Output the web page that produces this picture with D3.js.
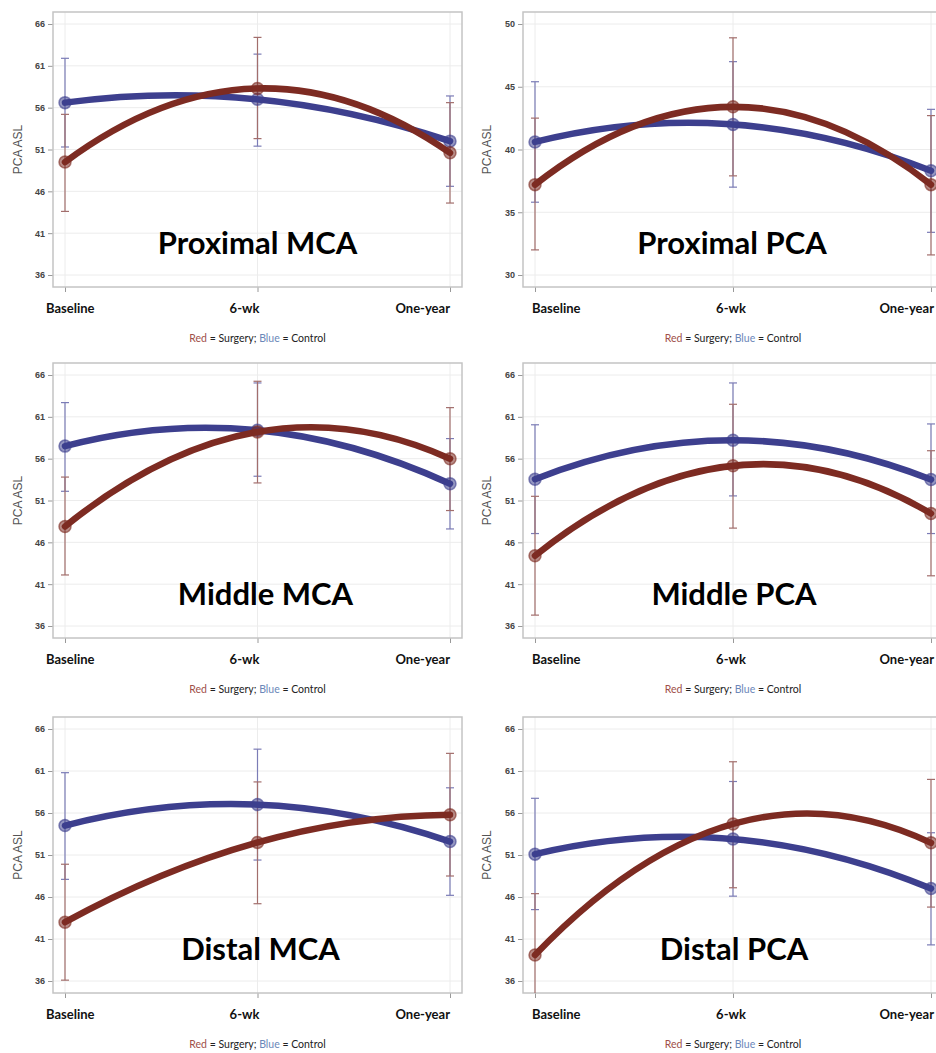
<!DOCTYPE html>
<html>
<head>
<meta charset="utf-8">
<script src="https://cdn.jsdelivr.net/npm/d3@7"></script>
<style>
  body { margin: 0; background: #fff; }
  svg { display: block; }
</style>
</head>
<body>
<div id="chart"></div>
<script>
// Data: means and error bar ends per region and time point
const timepoints = ["Baseline", "6-wk", "One-year"];
const regions = ["Proximal MCA", "Proximal PCA", "Middle MCA", "Middle PCA", "Distal MCA", "Distal PCA"];

const surgeryMean = [
  [49.5, 58.3, 50.6],
  [37.2, 43.4, 37.2],
  [47.9, 59.2, 56.0],
  [44.4, 55.15, 49.45],
  [43.0, 52.5, 55.8],
  [39.1, 54.7, 52.45]
];
const surgeryLow = [
  [43.6, 52.3, 44.6],
  [32.0, 37.9, 31.6],
  [42.1, 53.1, 49.8],
  [37.3, 47.7, 42.0],
  [36.1, 45.2, 48.5],
  [31.8, 47.1, 44.8]
];
const surgeryHigh = [
  [55.2, 64.4, 56.6],
  [42.5, 48.9, 42.7],
  [53.8, 65.25, 62.1],
  [51.5, 62.5, 56.95],
  [49.9, 59.7, 63.1],
  [46.4, 62.1, 60.0]
];
const controlMean = [
  [56.6, 57.0, 52.0],
  [40.6, 42.0, 38.3],
  [57.5, 59.4, 53.0],
  [53.55, 58.2, 53.5],
  [54.5, 57.0, 52.6],
  [51.1, 52.9, 47.0]
];
const controlLow = [
  [51.3, 51.4, 46.6],
  [35.8, 37.0, 33.4],
  [52.1, 53.9, 47.6],
  [47.05, 51.55, 47.05],
  [48.1, 50.4, 46.2],
  [44.5, 46.1, 40.3]
];
const controlHigh = [
  [61.9, 62.4, 57.4],
  [45.4, 47.0, 43.2],
  [62.7, 65.05, 58.4],
  [60.05, 65.05, 60.15],
  [60.8, 63.6, 59.0],
  [57.75, 59.75, 53.65]
];
const yTicks = [
  [36, 41, 46, 51, 56, 61, 66],
  [30, 35, 40, 45, 50],
  [36, 41, 46, 51, 56, 61, 66],
  [36, 41, 46, 51, 56, 61, 66],
  [36, 41, 46, 51, 56, 61, 66],
  [36, 41, 46, 51, 56, 61, 66]
];
const yLabel = "PCA ASL";

// Layout (pixels)
const width = 936, height = 1053;
const columns = [
  { left: 53, right: 462, labels: [{ anchor: "start", dx: -19 }, { anchor: "middle", dx: -13 }, { anchor: "end", dx: 0 }], yLabelX: 18 },
  { left: 523, right: 943, labels: [{ anchor: "start", dx: -3 }, { anchor: "middle", dx: -2 }, { anchor: "end", dx: 3 }], yLabelX: 487 }
];
const rows = [
  { top: 12, bottom: 287 },
  { top: 363, bottom: 638 },
  { top: 717, bottom: 993 }
];
const titleDx = [0, -1, 8, 1, 3, 1];
const inset = 12;

const blue = "#3d3f8e", red = "#7d2b22";
const blueBar = "#7b7cb6", redBar = "#a26e6c";

const svg = d3.select("#chart").append("svg")
  .attr("width", width)
  .attr("height", height);

svg.append("rect").attr("width", width).attr("height", height).attr("fill", "#fff");

// quadratic fit through three equally spaced points, drawn as one Bezier
function curveQuadFit(context) {
  let pts = [];
  return {
    areaStart() {}, areaEnd() {},
    lineStart() { pts = []; },
    point(x, y) { pts.push([+x, +y]); },
    lineEnd() {
      const [p0, p1, p2] = pts;
      context.moveTo(p0[0], p0[1]);
      context.quadraticCurveTo(
        2 * p1[0] - (p0[0] + p2[0]) / 2,
        2 * p1[1] - (p0[1] + p2[1]) / 2,
        p2[0], p2[1]);
    }
  };
}

regions.forEach((region, i) => {
  const col = columns[i % 2], row = rows[Math.floor(i / 2)];
  const ticks = yTicks[i];

  const x = d3.scalePoint().domain(timepoints).range([col.left + inset, col.right - inset]);
  const y = d3.scaleLinear().domain(d3.extent(ticks)).range([row.bottom - inset, row.top + inset]);

  const g = svg.append("g").attr("class", "panel");

  const clipId = "clip" + i;
  g.append("clipPath").attr("id", clipId)
    .append("rect")
    .attr("x", col.left).attr("y", row.top)
    .attr("width", col.right - col.left).attr("height", row.bottom - row.top);

  // grid
  g.append("g").selectAll("line.h").data(ticks).join("line")
    .attr("x1", col.left).attr("x2", col.right)
    .attr("y1", d => y(d)).attr("y2", d => y(d))
    .attr("stroke", "#ececec").attr("stroke-width", 1);
  g.append("g").selectAll("line.v").data(timepoints).join("line")
    .attr("x1", d => x(d)).attr("x2", d => x(d))
    .attr("y1", row.top).attr("y2", row.bottom)
    .attr("stroke", "#ececec").attr("stroke-width", 1);

  // y axis
  const yAxis = g.append("g")
    .attr("transform", `translate(${col.left},0)`)
    .call(d3.axisLeft(y).tickValues(ticks).tickSize(5).tickPadding(3));
  yAxis.select(".domain").remove();
  yAxis.selectAll(".tick line").attr("stroke", "#999");
  yAxis.selectAll(".tick text")
    .attr("font-family", "Liberation Sans, Arial, sans-serif")
    .attr("font-size", 9).attr("font-weight", "bold").attr("fill", "#444");

  // x axis ticks below frame
  const xAxis = g.append("g")
    .attr("transform", `translate(0,${row.bottom})`)
    .call(d3.axisBottom(x).tickSize(5).tickFormat(""));
  xAxis.select(".domain").remove();
  xAxis.selectAll(".tick line").attr("stroke", "#999");

  // category labels
  g.append("g").selectAll("text").data(timepoints).join("text")
    .attr("x", (d, k) => x(d) + col.labels[k].dx)
    .attr("y", row.bottom + 26)
    .attr("text-anchor", (d, k) => col.labels[k].anchor)
    .attr("font-family", "Lato, sans-serif")
    .attr("font-weight", "bold").attr("font-size", 13)
    .attr("fill", "#111")
    .text(d => d);

  // frame
  g.append("rect")
    .attr("x", col.left).attr("y", row.top)
    .attr("width", col.right - col.left).attr("height", row.bottom - row.top)
    .attr("fill", "none").attr("stroke", "#c4c4c4").attr("stroke-width", 1.5);

  // y label
  g.append("text")
    .attr("transform", `translate(${col.yLabelX},${(row.top + row.bottom) / 2}) rotate(-90)`)
    .attr("text-anchor", "middle").attr("dy", "0.35em")
    .attr("font-family", "Liberation Sans, Arial, sans-serif")
    .attr("font-size", 12).attr("fill", "#555")
    .text(yLabel);

  const plot = g.append("g").attr("clip-path", `url(#${clipId})`);

  const series = [
    { mean: controlMean[i], low: controlLow[i], high: controlHigh[i], color: blue, bar: blueBar },
    { mean: surgeryMean[i], low: surgeryLow[i], high: surgeryHigh[i], color: red, bar: redBar }
  ];

  // error bars
  series.forEach(s => {
    const eb = plot.append("g").selectAll("g").data(timepoints).join("g");
    eb.append("line")
      .attr("x1", d => x(d)).attr("x2", d => x(d))
      .attr("y1", (d, k) => y(s.low[k])).attr("y2", (d, k) => y(s.high[k]))
      .attr("stroke", s.bar).attr("stroke-width", 1.2);
    [s.low, s.high].forEach(arr => {
      eb.append("line")
        .attr("x1", d => x(d) - 4).attr("x2", d => x(d) + 4)
        .attr("y1", (d, k) => y(arr[k])).attr("y2", (d, k) => y(arr[k]))
        .attr("stroke", s.bar).attr("stroke-width", 1.2);
    });
  });

  // fitted curves and markers
  const line = d3.line()
    .x((d, k) => x(timepoints[k]))
    .y(d => y(d))
    .curve(curveQuadFit);

  series.forEach(s => {
    plot.append("path")
      .attr("d", line(s.mean))
      .attr("fill", "none")
      .attr("stroke", s.color)
      .attr("stroke-width", 6.5)
      .attr("stroke-linecap", "round");
    plot.append("g").selectAll("circle").data(s.mean).join("circle")
      .attr("cx", (d, k) => x(timepoints[k]))
      .attr("cy", d => y(d))
      .attr("r", 6)
      .attr("fill", s.color).attr("fill-opacity", 0.55)
      .attr("stroke", s.color).attr("stroke-opacity", 0.6).attr("stroke-width", 1.5);
  });

  // big region title
  g.append("text")
    .attr("x", x(timepoints[1]) + titleDx[i])
    .attr("y", row.bottom - 33)
    .attr("text-anchor", "middle")
    .attr("font-family", "Lato, sans-serif")
    .attr("font-weight", "bold").attr("font-size", 31)
    .attr("fill", "#000")
    .text(region);

  // legend note
  const note = g.append("text")
    .attr("x", x(timepoints[1]))
    .attr("y", row.bottom + 55)
    .attr("text-anchor", "middle")
    .attr("font-family", "Lato, sans-serif")
    .attr("font-size", 10.5).attr("fill", "#222");
  note.append("tspan").attr("fill", "#a04f48").text("Red");
  note.append("tspan").text(" = Surgery; ");
  note.append("tspan").attr("fill", "#6b87b9").text("Blue");
  note.append("tspan").text(" = Control");
});
</script>
</body>
</html>
